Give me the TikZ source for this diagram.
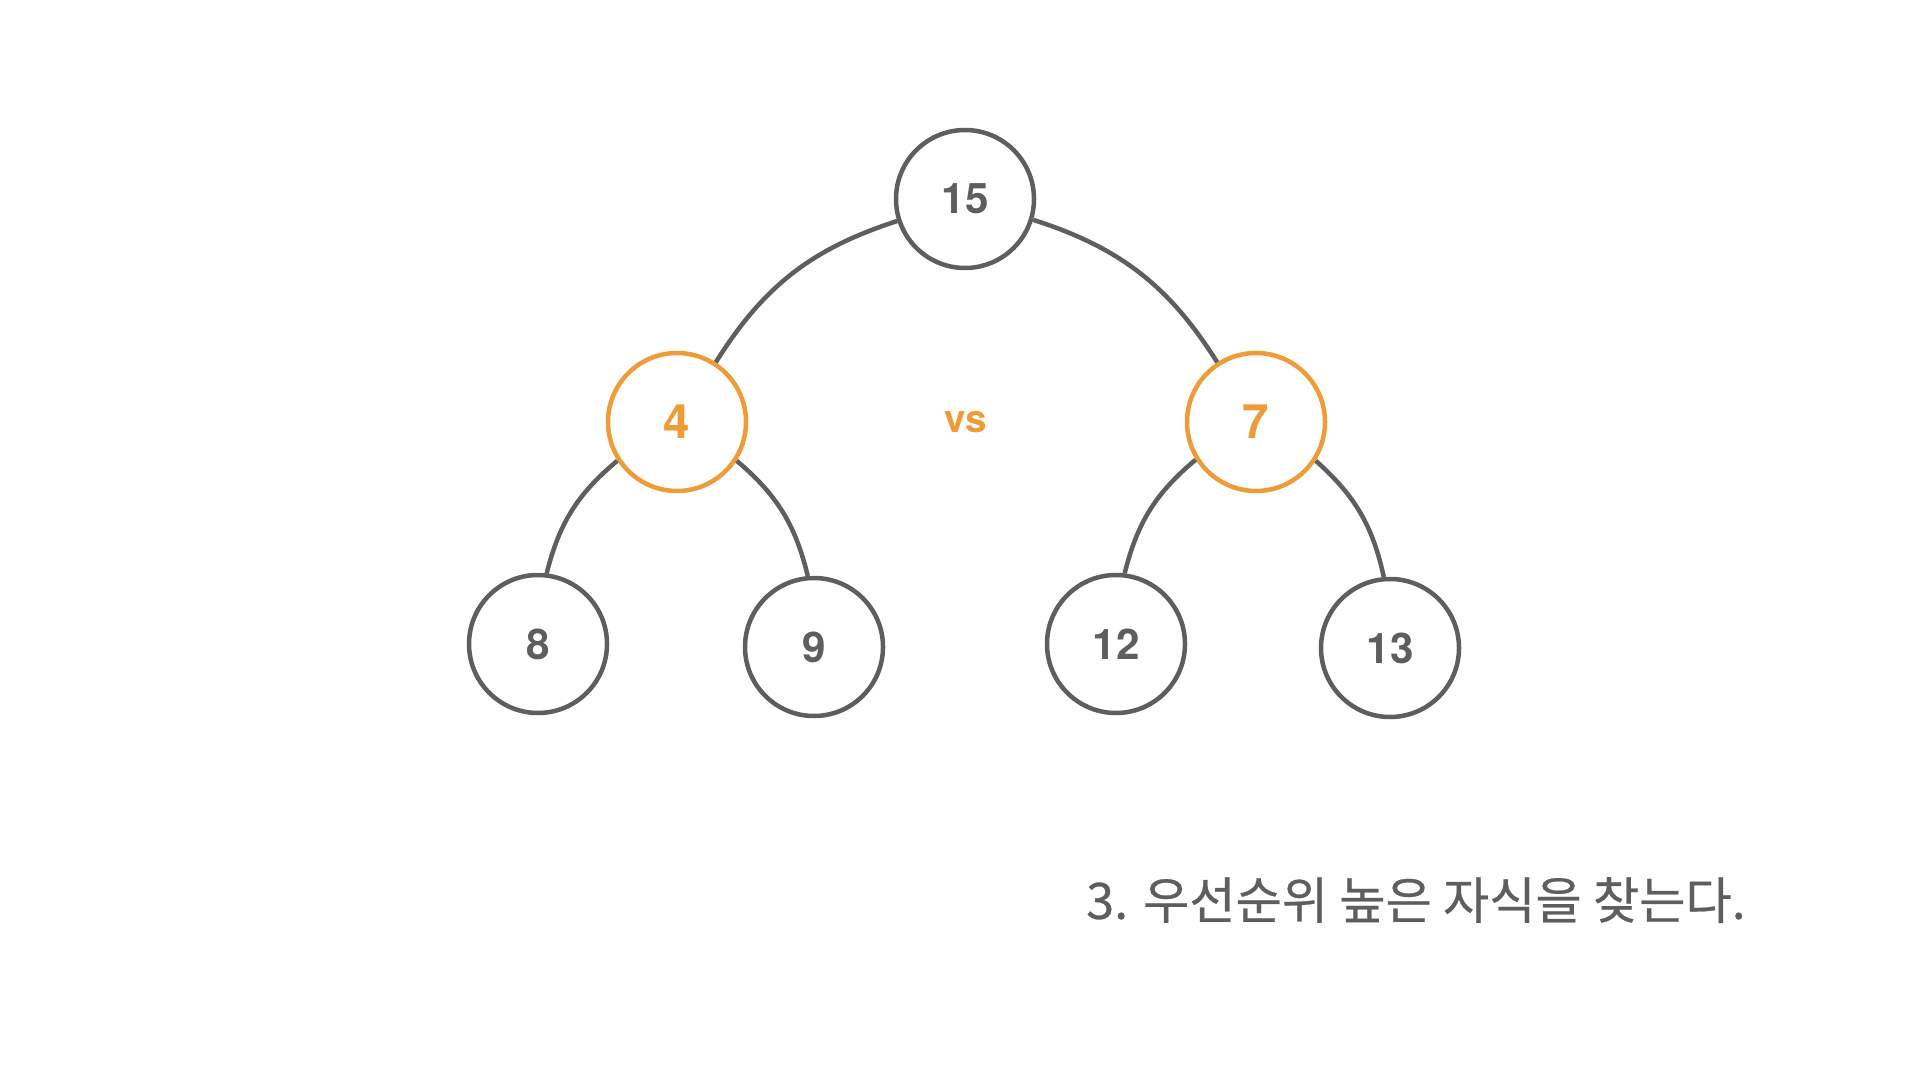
\documentclass[tikz,border=0pt]{standalone}
\usepackage{fontspec}
\setmainfont{TeX Gyre Heros}
\newfontfamily\krfont{Noto Sans CJK KR}[FakeBold=0.5]
\usetikzlibrary{positioning}
\definecolor{nodegray}{RGB}{94,94,94}
\definecolor{heaporange}{RGB}{239,156,56}

\begin{document}
\begin{tikzpicture}[
        hnode/.style={circle, draw=nodegray, fill=white, line width=0.045cm, minimum size=1.38cm, inner sep=0pt, text=nodegray, font=\bfseries\fontsize{12}{14}\selectfont},
        hpick/.style={hnode, draw=heaporange, text=heaporange, font=\bfseries\fontsize{13.5}{16}\selectfont},
        hedge/.style={draw=nodegray, line width=0.045cm}
    ]
        \useasboundingbox (0,0) rectangle (19.2,-10.8);

        \node[hnode] (root) at (9.65,-1.99) {15};
        \node[hpick] (left) at (6.77,-4.22) {4};
        \node[hpick] (right) at (12.56,-4.22) {7};
        \node[hnode] (ll) at (5.38,-6.44) {8};
        \node[hnode] (lr) at (8.14,-6.47) {9};
        \node[hnode] (rl) at (11.16,-6.44) {12};
        \node[hnode] (rr) at (13.90,-6.48) {13};
        \node[text=heaporange, font=\bfseries\fontsize{11}{13}\selectfont] (vs) at (9.66,-4.22) {vs};

        \draw[hedge] (root.198) to[bend right=20] (left.57);
        \draw[hedge] (root.343) to[bend left=20] (right.123);
        \draw[hedge] (left.213) to[bend right=18] (ll.83);
        \draw[hedge] (left.327) to[bend left=18] (lr.95);
        \draw[hedge] (right.212) to[bend right=18] (rl.83);
        \draw[hedge] (right.327) to[bend left=18] (rr.95);

        \node[text=nodegray, font=\krfont\fontsize{14.3}{17}\selectfont] (caption) at (14.16,-9.0) {3. 우선순위 높은 자식을 찾는다.};
    \end{tikzpicture}
\end{document}
